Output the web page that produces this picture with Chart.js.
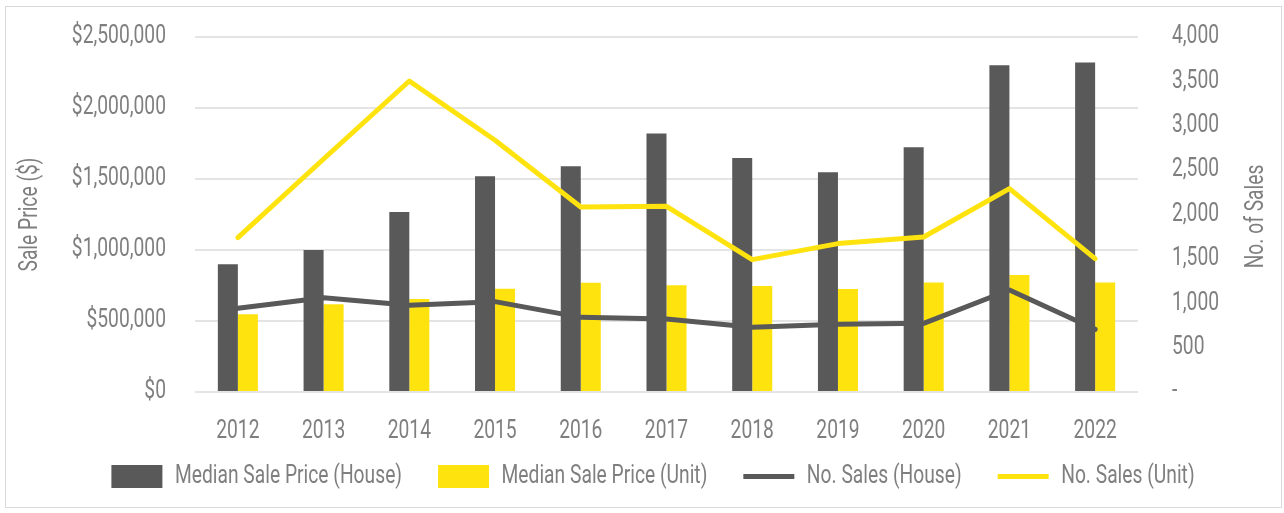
<!DOCTYPE html>
<html>
<head>
<meta charset="utf-8">
<script src="https://cdn.jsdelivr.net/npm/chart.js@4/dist/chart.umd.min.js"></script>
<style>
  html, body { margin: 0; padding: 0; background: #ffffff; }
  #wrap { position: relative; width: 1284px; height: 513px; }
  #frame { position: absolute; left: 5px; top: 6px; width: 1275px; height: 500px; border: 1px solid #d9d9d9; pointer-events: none; }
  canvas { position: absolute; left: 0; top: 0; }
</style>
</head>
<body>
<div id="wrap">
  <canvas id="c" width="1284" height="513"></canvas>
  <div id="frame"></div>
</div>
<script>
const years = ['2012','2013','2014','2015','2016','2017','2018','2019','2020','2021','2022'];
const housePrice = [900000, 1000000, 1268000, 1520000, 1590000, 1820000, 1648000, 1547000, 1723000, 2301000, 2320000];
const unitPrice  = [547000, 618000, 655000, 727000, 770000, 752000, 746000, 725000, 772000, 824000, 772000];
const houseSales = [943, 1063, 977, 1018, 841, 822, 729, 763, 774, 1149, 706];
const unitSales  = [1740, 2625, 3504, 2836, 2085, 2092, 1492, 1672, 1747, 2292, 1503];
const priceTickLabels = ['$0', '$500,000', '$1,000,000', '$1,500,000', '$2,000,000', '$2,500,000'];
const salesTickLabels = ['-', '500', '1,000', '1,500', '2,000', '2,500', '3,000', '3,500', '4,000'];
const seriesNames = ['Median Sale Price (House)', 'Median Sale Price (Unit)', 'No. Sales (House)', 'No. Sales (Unit)'];
const leftTitle = 'Sale Price ($)';
const rightTitle = 'No. of Sales';

// Condensed look: compress glyphs horizontally (no condensed font installed)
const K = 0.77;
(function () {
  const proto = CanvasRenderingContext2D.prototype;
  const origFill = proto.fillText;
  const origMeasure = proto.measureText;
  proto.fillText = function (t, x, y, maxW) {
    this.save();
    this.translate(x, y);
    this.scale(K, 1);
    if (maxW !== undefined) origFill.call(this, t, 0, 0, maxW / K);
    else origFill.call(this, t, 0, 0);
    this.restore();
  };
  proto.measureText = function (t) {
    const m = origMeasure.call(this, t);
    return {
      width: m.width * K,
      actualBoundingBoxAscent: m.actualBoundingBoxAscent,
      actualBoundingBoxDescent: m.actualBoundingBoxDescent,
      actualBoundingBoxLeft: m.actualBoundingBoxLeft * K,
      actualBoundingBoxRight: m.actualBoundingBoxRight * K,
      fontBoundingBoxAscent: m.fontBoundingBoxAscent,
      fontBoundingBoxDescent: m.fontBoundingBoxDescent
    };
  };
})();

const FONT = "Roboto, 'Liberation Sans', sans-serif";
const FS = 25;
const TXT = '#7f7f7f';
const DARK = '#595959';
const YELLOW = '#ffe30f';
const CLEAR = 'rgba(0,0,0,0)';

const rightTitlePlugin = {
  id: 'rightTitle',
  afterDraw(chart) {
    const s = chart.scales.y1;
    const ctx = chart.ctx;
    ctx.save();
    ctx.translate(s.right - 27, (chart.chartArea.top + chart.chartArea.bottom) / 2 + 2);
    ctx.rotate(-Math.PI / 2);
    ctx.font = FS + "px " + FONT;
    ctx.fillStyle = TXT;
    ctx.textAlign = 'center';
    ctx.textBaseline = 'middle';
    ctx.fillText(rightTitle, 0, 0);
    ctx.restore();
  }
};

const legendShift = {
  id: 'legendShift',
  afterLayout(chart) {
    const lg = chart.legend;
    if (!lg) return;
    lg.top -= 14; lg.bottom -= 14;
    lg.left += 11; lg.right += 11;
  }
};

new Chart(document.getElementById('c'), {
  data: {
    labels: years,
    datasets: [
      { type: 'bar', label: seriesNames[0], data: housePrice, backgroundColor: DARK, yAxisID: 'y', order: 2,
        categoryPercentage: 0.467, barPercentage: 1.0, pointStyle: 'rect' },
      { type: 'bar', label: seriesNames[1], data: unitPrice, backgroundColor: YELLOW, yAxisID: 'y', order: 2,
        categoryPercentage: 0.467, barPercentage: 1.0, pointStyle: 'rect' },
      { type: 'line', label: seriesNames[2], data: houseSales, borderColor: DARK, backgroundColor: DARK, yAxisID: 'y1', order: 0,
        borderWidth: 5, pointRadius: 0, borderCapStyle: 'round', borderJoinStyle: 'round', tension: 0, pointStyle: 'line' },
      { type: 'line', label: seriesNames[3], data: unitSales, borderColor: YELLOW, backgroundColor: YELLOW, yAxisID: 'y1', order: 1,
        borderWidth: 5, pointRadius: 0, borderCapStyle: 'round', borderJoinStyle: 'round', tension: 0, pointStyle: 'line' }
    ]
  },
  options: {
    responsive: false,
    animation: false,
    layout: { padding: { top: 37, left: 0, right: 0, bottom: 0 } },
    plugins: {
      tooltip: { enabled: false },
      legend: {
        position: 'bottom',
        labels: {
          usePointStyle: true,
          pointStyleWidth: 51,
          boxHeight: 23,
          padding: 36,
          color: TXT,
          font: { family: FONT, size: FS },
          sort: (a, b) => a.datasetIndex - b.datasetIndex
        }
      }
    },
    scales: {
      x: {
        grid: { display: false, drawTicks: false },
        border: { display: false },
        ticks: { color: TXT, font: { family: FONT, size: FS }, padding: 25, maxRotation: 0 },
        afterFit: (s) => { s.height = 50; }
      },
      y: {
        position: 'left',
        min: 0, max: 2500000,
        ticks: { stepSize: 500000, color: TXT, font: { family: FONT, size: FS }, padding: 0,
                 callback: (v, i) => priceTickLabels[i] },
        grid: { color: '#e4e4e4', lineWidth: 2, drawTicks: true, tickLength: 29, tickColor: CLEAR },
        border: { display: false },
        title: { display: true, text: leftTitle, color: TXT, font: { family: FONT, size: FS }, padding: { top: 16 } },
        afterFit: (s) => { s.width = 195; }
      },
      y1: {
        position: 'right',
        min: 0, max: 4000,
        ticks: { stepSize: 500, color: TXT, font: { family: FONT, size: FS }, padding: 0,
                 callback: (v, i) => salesTickLabels[i] },
        grid: { display: true, drawOnChartArea: false, color: CLEAR, drawTicks: true, tickLength: 34, tickColor: CLEAR },
        border: { display: false },
        afterFit: (s) => { s.width = 146; }
      }
    }
  },
  plugins: [rightTitlePlugin, legendShift]
});
</script>
</body>
</html>
